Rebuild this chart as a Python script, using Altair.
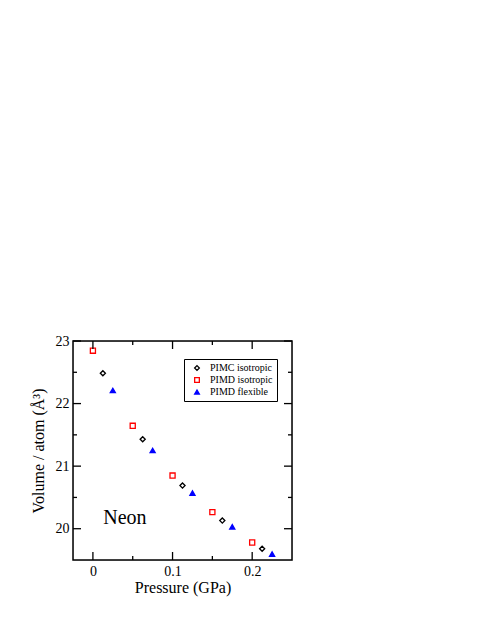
import altair as alt
import pandas as pd

# ---- data ----
pimc_p = [0.0125, 0.0625, 0.1125, 0.1625, 0.2125]
pimc_v = [22.485, 21.43, 20.69, 20.13, 19.68]

pimd_iso_p = [0.0, 0.05, 0.10, 0.15, 0.20]
pimd_iso_v = [22.845, 21.645, 20.85, 20.265, 19.78]

pimd_flex_p = [0.025, 0.075, 0.125, 0.175, 0.225]
pimd_flex_v = [22.21, 21.25, 20.57, 20.03, 19.595]

series_names = ["PIMC isotropic", "PIMD isotropic", "PIMD flexible"]

x_major = [0.0, 0.1, 0.2]
x_minor = [0.05, 0.15]
y_major = [20, 21, 22, 23]
y_minor = [20.5, 21.5, 22.5]

x_domain = [-0.025, 0.25]
y_domain = [19.5, 23.0]

label_text = ["Neon"]
label_x = [0.013]
label_y = [20.17]

W, H = 219, 219

rows = []
for p, v in zip(pimc_p, pimc_v):
    rows.append({"p": p, "v": v, "series": series_names[0]})
for p, v in zip(pimd_iso_p, pimd_iso_v):
    rows.append({"p": p, "v": v, "series": series_names[1]})
for p, v in zip(pimd_flex_p, pimd_flex_v):
    rows.append({"p": p, "v": v, "series": series_names[2]})
df = pd.DataFrame(rows)

xs = alt.Scale(domain=x_domain, nice=False, zero=False)
ys = alt.Scale(domain=y_domain, nice=False, zero=False)

font = "Liberation Serif"

x_axis = alt.Axis(title="Pressure  (GPa)", values=x_major, format=".1~f",
                  domain=False, ticks=False, grid=False, labelPadding=4,
                  labelFontSize=14, titleFontSize=16, titleFont=font,
                  labelFont=font, labelColor="black", titleColor="black",
                  titleFontWeight="normal", titlePadding=1)
y_axis = alt.Axis(title="Volume / atom  (Å³)", values=y_major, format="d",
                  domain=False, ticks=False, grid=False, labelPadding=4,
                  labelFontSize=14, titleFontSize=16, titleFont=font,
                  labelFont=font, labelColor="black", titleColor="black",
                  titleFontWeight="normal", titlePadding=9)

points = alt.Chart(df).mark_point(size=26, strokeWidth=1.3, opacity=1).encode(
    x=alt.X("p:Q", scale=xs, axis=x_axis),
    y=alt.Y("v:Q", scale=ys, axis=y_axis),
    shape=alt.Shape("series:N",
                    scale=alt.Scale(domain=series_names, range=["diamond", "square", "triangle-up"]),
                    legend=alt.Legend(title=None, orient="none", legendX=111, legendY=18,
                                      strokeColor="black", padding=4, symbolOffset=4,
                                      labelFont=font, labelFontSize=10, labelColor="black",
                                      rowPadding=2, labelOffset=8, symbolSize=22,
                                      symbolStrokeWidth=1.3)),
    stroke=alt.Stroke("series:N",
                      scale=alt.Scale(domain=series_names, range=["black", "#ff0000", "#0000ff"]),
                      legend=alt.Legend(title=None, orient="none", legendX=111, legendY=18)),
    fill=alt.Fill("series:N",
                  scale=alt.Scale(domain=series_names, range=["transparent", "transparent", "#0000ff"]),
                  legend=alt.Legend(title=None, orient="none", legendX=111, legendY=18)),
)

def tick_layer(vals, chan, length, side):
    d = pd.DataFrame({"t": vals})
    base = alt.Chart(d).mark_rule(color="black", strokeWidth=1.3)
    if chan == "x":
        xe = alt.X("t:Q", scale=xs, axis=x_axis)
        if side == "bottom":
            return base.encode(x=xe, y=alt.value(H), y2=alt.value(H - length))
        return base.encode(x=xe, y=alt.value(0), y2=alt.value(length))
    ye = alt.Y("t:Q", scale=ys, axis=y_axis)
    if side == "left":
        return base.encode(y=ye, x=alt.value(0), x2=alt.value(length))
    return base.encode(y=ye, x=alt.value(W), x2=alt.value(W - length))

ticks = [
    tick_layer(x_major, "x", 8, "bottom"), tick_layer(x_minor, "x", 4, "bottom"),
    tick_layer(x_major, "x", 8, "top"), tick_layer(x_minor, "x", 4, "top"),
    tick_layer(y_major, "y", 8, "left"), tick_layer(y_minor, "y", 4, "left"),
    tick_layer(y_major, "y", 8, "right"), tick_layer(y_minor, "y", 4, "right"),
]

frame = alt.Chart(pd.DataFrame({"a": [0]})).mark_rect(
    fill=None, stroke="black", strokeWidth=1.5
).encode(x=alt.value(0), x2=alt.value(W), y=alt.value(0), y2=alt.value(H))

lab = alt.Chart(pd.DataFrame({"t": label_text, "x": label_x, "y": label_y})).mark_text(
    align="left", baseline="middle", font=font, fontSize=20, color="black"
).encode(x=alt.X("x:Q", scale=xs, axis=x_axis), y=alt.Y("y:Q", scale=ys, axis=y_axis), text="t:N")

chart = alt.layer(points, *ticks, lab, frame).properties(
    width=W, height=H,
    autosize=alt.AutoSizeParams(type="none"),
    padding={"left": 65, "top": 333, "right": 10, "bottom": 60},
).configure_view(stroke=None).configure(background="white")

chart.save("out.html", embed_options={"renderer": "svg", "actions": False})
